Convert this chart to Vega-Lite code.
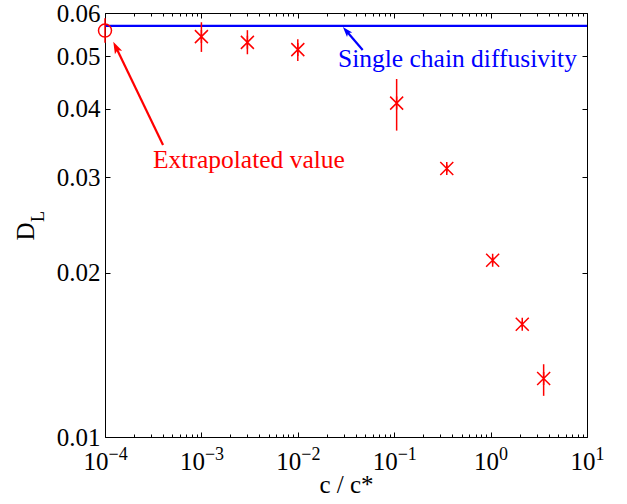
{
  "$schema": "https://vega.github.io/schema/vega-lite/v6.json",
  "width": 482,
  "height": 424,
  "autosize": "none",
  "padding": {"left": 105, "top": 13, "right": 40, "bottom": 67},
  "config": {
    "view": {"stroke": "black", "strokeWidth": 1},
    "font": "Liberation Serif",
    "axis": {
      "grid": false,
      "domain": false,
      "labelFont": "Liberation Serif",
      "labelFontSize": 25,
      "labelColor": "black",
      "labelFlush": false,
      "labelOverlap": false,
      "titleFont": "Liberation Serif",
      "titleFontSize": 25,
      "titleFontWeight": "normal",
      "titleColor": "black",
      "tickColor": "black",
      "tickWidth": 1
    }
  },
  "datasets": {
    "stars": [
      {"c": 0.001, "D": 0.0543, "lo": 0.0509, "hi": 0.0577},
      {"c": 0.003, "D": 0.0530, "lo": 0.0504, "hi": 0.0558},
      {"c": 0.01, "D": 0.0514, "lo": 0.0490, "hi": 0.0537},
      {"c": 0.106, "D": 0.0410, "lo": 0.0365, "hi": 0.0454},
      {"c": 0.351, "D": 0.0311, "lo": 0.0306, "hi": 0.0316},
      {"c": 1.05, "D": 0.0211, "lo": 0.0208, "hi": 0.0214},
      {"c": 2.13, "D": 0.0161, "lo": 0.0159, "hi": 0.0163},
      {"c": 3.55, "D": 0.0128, "lo": 0.0119, "hi": 0.0136}
    ],
    "extrap": [{"c": 0.0001, "D": 0.0557, "lo": 0.0529, "hi": 0.0587}],
    "single": [{"D": 0.0568}],
    "arrows": [
      {"name": "red", "x1": 0.0004, "y1": 0.03434, "x2": 0.0001307, "y2": 0.05179, "angle": 334, "size": 178, "color": "red"},
      {"name": "blue", "x1": 0.0471, "y1": 0.0513, "x2": 0.0321, "y2": 0.05554, "angle": 319, "size": 130, "color": "blue"}
    ],
    "labels": [
      {"text": "Extrapolated value", "c": 0.000315, "D": 0.03116, "color": "red"},
      {"text": "Single chain diffusivity", "c": 0.0261, "D": 0.04773, "color": "blue"}
    ],
    "sub": [{"text": "L", "c": 0.0000207, "D": 0.02539}]
  },
  "resolve": {"axis": {"x": "independent", "y": "independent"}},
  "layer": [
    {
      "data": {"name": "single"},
      "mark": {"type": "rule", "color": "#0000ff", "strokeWidth": 2.2},
      "encoding": {
        "y": {
          "field": "D", "type": "quantitative",
          "scale": {"type": "log", "domain": [0.01, 0.06], "nice": false},
          "axis": {"orient": "right", "labels": false, "title": null,
            "values": [0.01, 0.02, 0.03, 0.04, 0.05, 0.06], "tickSize": -5}
        }
      }
    },
    {
      "data": {"name": "stars"},
      "mark": {"type": "rule", "color": "red", "strokeWidth": 1.5},
      "encoding": {
        "x": {"field": "c", "type": "quantitative",
          "scale": {"type": "log", "domain": [0.0001, 10], "nice": false},
          "axis": {"orient": "top", "labels": false, "title": null,
            "values": [0.0001,0.0002,0.0003,0.0004,0.0005,0.0006,0.0007,0.0008,0.0009,0.001,0.002,0.003,0.004,0.005,0.006,0.007,0.008,0.009,0.01,0.02,0.03,0.04,0.05,0.06,0.07,0.08,0.09,0.1,0.2,0.3,0.4,0.5,0.6,0.7,0.8,0.9,1,2,3,4,5,6,7,8,9,10],
            "tickSize": {"condition": {"test": "indexof([0.0001,0.001,0.01,0.1,1,10], datum.value) >= 0", "value": -5}, "value": -3}}},
        "y": {"field": "lo", "type": "quantitative", "axis": null},
        "y2": {"field": "hi"}
      }
    },
    {
      "data": {"name": "stars"},
      "mark": {"type": "point", "shape": "M-1,-1L1,1M-1,1L1,-1M0,-1L0,1", "filled": false, "color": "red", "strokeWidth": 1.5, "size": 169, "opacity": 1},
      "encoding": {
        "x": {"field": "c", "type": "quantitative",
          "axis": {"orient": "bottom", "title": "c / c*", "titlePadding": -4,
            "values": [0.0001,0.0002,0.0003,0.0004,0.0005,0.0006,0.0007,0.0008,0.0009,0.001,0.002,0.003,0.004,0.005,0.006,0.007,0.008,0.009,0.01,0.02,0.03,0.04,0.05,0.06,0.07,0.08,0.09,0.1,0.2,0.3,0.4,0.5,0.6,0.7,0.8,0.9,1,2,3,4,5,6,7,8,9,10],
            "labelExpr": "indexof([0.0001,0.001,0.01,0.1,1,10], datum.value) >= 0 ? '10' : ''",
            "labelAlign": "right",
            "labelOffset": {"condition": {"test": "datum.value < 1", "value": 3}, "value": 8},
            "labelPadding": 17,
            "tickSize": {"condition": {"test": "indexof([0.0001,0.001,0.01,0.1,1,10], datum.value) >= 0", "value": -5}, "value": -3}}},
        "y": {"field": "D", "type": "quantitative",
          "axis": {"orient": "left", "title": "D", "titlePadding": 18, "titleY": 218,
            "values": [0.01, 0.02, 0.03, 0.04, 0.05, 0.06],
            "format": ".2f", "labelPadding": 10, "tickSize": -5}}
      }
    },
    {
      "data": {"name": "extrap"},
      "mark": {"type": "rule", "color": "red", "strokeWidth": 1.5},
      "encoding": {
        "x": {"field": "c", "type": "quantitative",
          "axis": {"orient": "bottom", "title": null, "ticks": false,
            "values": [0.0001, 0.001, 0.01, 0.1, 1, 10],
            "labelExpr": "datum.value == 0.0001 ? '−4' : datum.value == 0.001 ? '−3' : datum.value == 0.01 ? '−2' : datum.value == 0.1 ? '−1' : datum.value == 1 ? '0' : '1'",
            "labelAlign": "left",
            "labelFontSize": 18,
            "labelOffset": {"condition": {"test": "datum.value < 1", "value": 3}, "value": 8},
            "labelPadding": 8}},
        "y": {"field": "lo", "type": "quantitative", "axis": null},
        "y2": {"field": "hi"}
      }
    },
    {
      "data": {"name": "extrap"},
      "mark": {"type": "point", "shape": "circle", "filled": false, "color": "red", "strokeWidth": 1.5, "size": 169, "opacity": 1},
      "encoding": {
        "x": {"field": "c", "type": "quantitative", "axis": null},
        "y": {"field": "D", "type": "quantitative", "axis": null}
      }
    },
    {
      "data": {"name": "arrows"},
      "mark": {"type": "rule", "strokeWidth": 2.2},
      "encoding": {
        "x": {"field": "x1", "type": "quantitative", "axis": null},
        "y": {"field": "y1", "type": "quantitative", "axis": null},
        "x2": {"field": "x2"},
        "y2": {"field": "y2"},
        "color": {"field": "color", "type": "nominal", "scale": null}
      }
    },
    {
      "data": {"name": "arrows"},
      "mark": {"type": "point", "shape": "M0,-1L0.6,0.8L0,0.4L-0.6,0.8Z", "filled": true, "opacity": 1, "strokeWidth": 0},
      "encoding": {
        "x": {"field": "x2", "type": "quantitative", "axis": null},
        "y": {"field": "y2", "type": "quantitative", "axis": null},
        "angle": {"field": "angle", "type": "quantitative", "scale": null},
        "size": {"field": "size", "type": "quantitative", "scale": null},
        "color": {"field": "color", "type": "nominal", "scale": null}
      }
    },
    {
      "data": {"name": "labels"},
      "mark": {"type": "text", "align": "left", "baseline": "alphabetic", "fontSize": 25.5, "font": "Liberation Serif"},
      "encoding": {
        "x": {"field": "c", "type": "quantitative", "axis": null},
        "y": {"field": "D", "type": "quantitative", "axis": null},
        "text": {"field": "text"},
        "color": {"field": "color", "type": "nominal", "scale": null}
      }
    },
    {
      "data": {"name": "sub"},
      "mark": {"type": "text", "align": "center", "baseline": "middle", "fontSize": 18, "angle": 270, "font": "Liberation Serif", "color": "black"},
      "encoding": {
        "x": {"field": "c", "type": "quantitative", "axis": null},
        "y": {"field": "D", "type": "quantitative", "axis": null},
        "text": {"field": "text"}
      }
    }
  ]
}
